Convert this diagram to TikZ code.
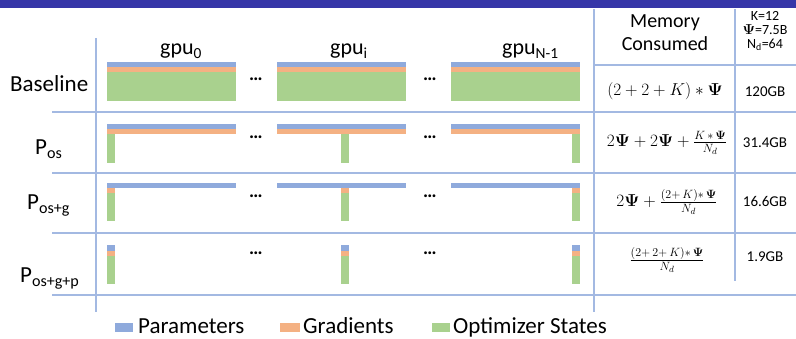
\documentclass[tikz,border=0pt]{standalone}
\usepackage{amsmath}
\usepackage[no-math]{fontspec}
\setmainfont{Carlito}
\definecolor{barblue}{HTML}{8FAADC}
\definecolor{barorange}{HTML}{F4B183}
\definecolor{bargreen}{HTML}{A9D18E}
\definecolor{rulecol}{HTML}{A3B9E2}
\definecolor{topcol}{HTML}{3636A8}
\newcommand{\bPsi}{\mathbf{\Psi}}
\begin{document}
\begin{tikzpicture}[x=1pt,y=-1pt,
  rule/.style={draw=rulecol,line width=1.1pt},
  rowlbl/.style={inner sep=0pt,anchor=base west,font=\fontsize{23}{27}\selectfont},
  gpulbl/.style={inner sep=0pt,anchor=base west,font=\fontsize{22}{26}\selectfont},
  dotlbl/.style={inner sep=0pt,anchor=base,font=\bfseries\fontsize{19}{22}\selectfont},
  formula/.style={inner sep=0pt,font=\fontsize{18}{21}\selectfont},
  value/.style={inner sep=0pt,font=\fontsize{15}{18}\selectfont},
  param/.style={inner sep=0pt,anchor=base,font=\fontsize{14}{16}\selectfont},
  legtxt/.style={inner sep=0pt,anchor=base west,font=\fontsize{23}{27}\selectfont}]
\useasboundingbox (0,0) rectangle (796,339);
% title band
\fill[topcol] (0,0) rectangle (796,8);

% table rules
\draw[rule] (96,38) -- (96,312);
\draw[rule] (594,9) -- (594,312);
\draw[rule] (735,9) -- (735,281);
\draw[rule] (594,65) -- (796,65);
\foreach \y in {112,173,233,295} \draw[rule] (52,\y) -- (796,\y);

% column headings
\node[gpulbl] (g0) at (160,55) {gpu\textsubscript{0}};
\node[gpulbl] (gi) at (330,55) {gpu\textsubscript{i}};
\node[gpulbl] (gn) at (502,55) {gpu\textsubscript{N-1}};
\node[inner sep=0pt,align=center,font=\fontsize{20}{23}\selectfont] (mem) at (665,33) {Memory\\Consumed};
\node[param] (pk) at (765,21) {K=12};
\node[param] (pp) at (765,35) {$\bPsi$=7.5B};
\node[param] (pn) at (765,48.5) {N\textsubscript{d}=64};

% row headings
\node[rowlbl] (r1) at (10,92) {Baseline};
\node[rowlbl] (r2) at (35,155) {P\textsubscript{os}};
\node[rowlbl] (r3) at (27,210) {P\textsubscript{os+g}};
\node[rowlbl] (r4) at (20,283) {P\textsubscript{os+g+p}};

% memory per GPU: full copies or 1/N_d shards
\foreach \x/\s in {107/107, 277/341, 451/572} {
  % baseline
  \fill[barblue]   (\x,62) rectangle ++(129,5);
  \fill[barorange] (\x,67) rectangle ++(129,5);
  \fill[bargreen]  (\x,72) rectangle ++(129,29);
  % P_os
  \fill[barblue]   (\x,124) rectangle ++(129,5);
  \fill[barorange] (\x,129) rectangle ++(129,5);
  \fill[bargreen]  (\s,134) rectangle ++(8,29);
  % P_os+g
  \fill[barblue]   (\x,183) rectangle ++(129,5);
  \fill[barorange] (\s,188) rectangle ++(8,5);
  \fill[bargreen]  (\s,193) rectangle ++(8,28);
  % P_os+g+p
  \fill[barblue]   (\s,245) rectangle ++(8,6);
  \fill[barorange] (\s,251) rectangle ++(8,5);
  \fill[bargreen]  (\s,256) rectangle ++(8,28);
}

% ellipses between GPUs
\node[dotlbl] (d1a) at (256,81) {…};
\node[dotlbl] (d1b) at (430,81) {…};
\node[dotlbl] (d2a) at (256,139) {…};
\node[dotlbl] (d2b) at (430,139) {…};
\node[dotlbl] (d3a) at (256,198) {…};
\node[dotlbl] (d3b) at (430,198) {…};
\node[dotlbl] (d4a) at (256,255) {…};
\node[dotlbl] (d4b) at (430,255) {…};

% memory formulas
\node[formula] (f1) at (665,91) {$(2+2+K)*\bPsi$};
\node[formula] (f2) at (667,143) {$2\bPsi+2\bPsi+\frac{K\,*\,\bPsi}{N_d}$};
\node[formula] (f3) at (667,202) {$2\bPsi+\frac{(2+\,K)*\,\bPsi}{N_d}$};
\node[formula] (f4) at (667,260) {$\frac{(2+\,2+\,K)*\,\bPsi}{N_d}$};

% totals
\node[value] (v1) at (765,92) {120GB};
\node[value] (v2) at (765,143) {31.4GB};
\node[value] (v3) at (765,201) {16.6GB};
\node[value] (v4) at (765,257) {1.9GB};

% legend
\fill[barblue]   (115,323) rectangle (133,332);
\node[legtxt] (lp) at (138,334) {Parameters};
\fill[barorange] (280,323) rectangle (300,332);
\node[legtxt] (lg) at (303,334) {Gradients};
\fill[bargreen]  (432,323) rectangle (450,332);
\node[legtxt] (lo) at (453,334) {Optimizer States};
\end{tikzpicture}
\end{document}
